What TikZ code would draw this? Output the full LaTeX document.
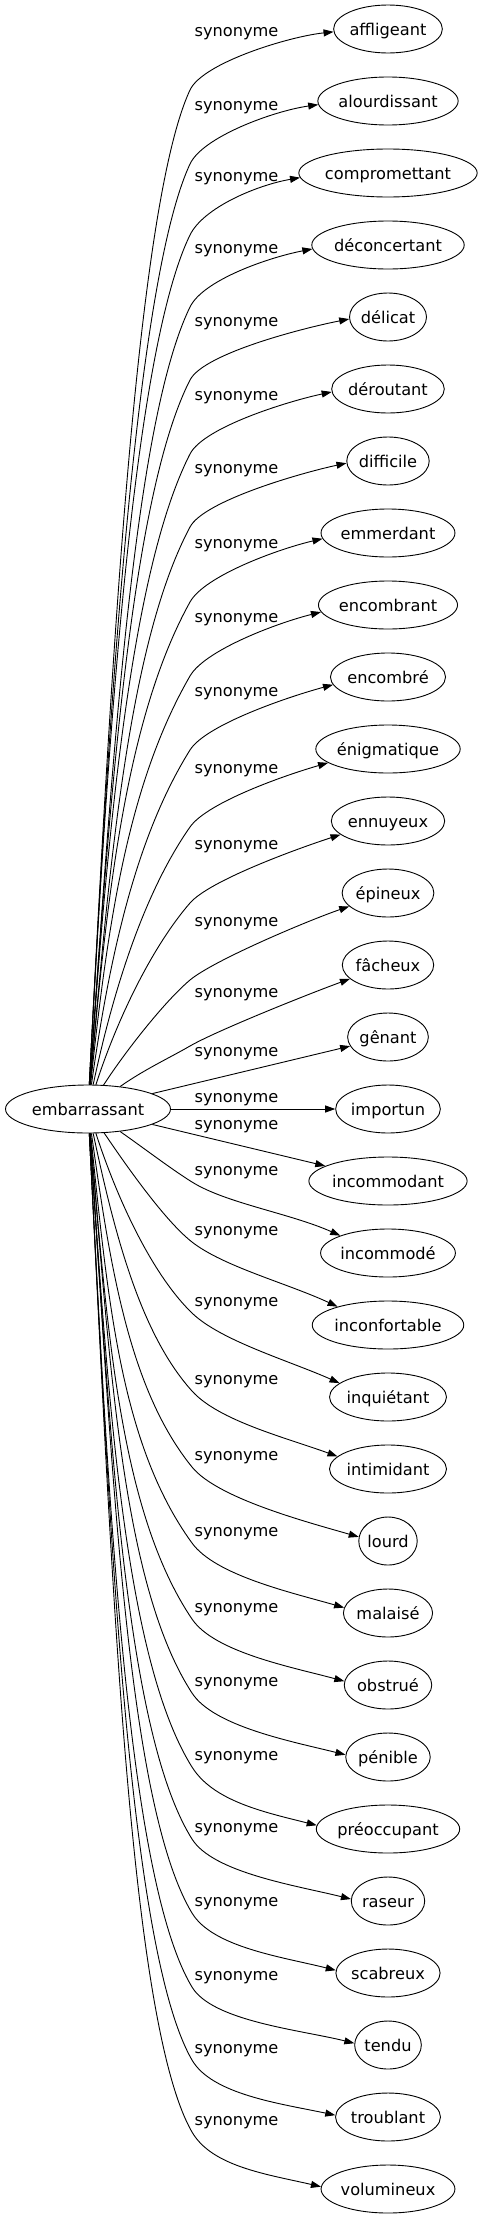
\documentclass[tikz,border=0pt]{standalone}
\usepackage{fontspec}
\newfontfamily\dejavu{DejaVu Sans}
\usetikzlibrary{arrows.meta,shapes.geometric}
\newlength\synw
\newcommand\gfont{\dejavu\fontsize{16.2pt}{19pt}\selectfont}
\tikzset{
  gnode/.style={ellipse, draw, line width=0.9pt, inner sep=0pt, minimum height=48pt, font=\gfont, text height=14pt, text depth=2pt},
  synlab/.style={font=\gfont, inner sep=0pt, anchor=base},
  synedge/.style={line width=0.9pt, -{Triangle[length=10pt,width=7pt]}}
}
\newcommand\tnode[3]{\settowidth\synw{\gfont #3}%
  \node[gnode, minimum width={1.25*\synw+32pt}] (#1) at (388,{-(29+72*#2)}) {#3};}
\newcommand\slab[2]{\node[synlab] (#1) at (236.5,{-(#2+3.5)}) {synonyme};}
% upper edge: target, U.y, out angle, tangent at U, out dist, in dist, arrival angle, target anchor
\newcommand\uedge[8]{%
  \pgfmathsetmacro\inA{#4+180}\pgfmathsetmacro\inB{#7+180}%
  \draw[synedge] (src) to[out=#3,in=\inA,out distance=#5pt,in distance=#6pt] (190,-#2)
    to[out=#4,in=\inB,out distance=30pt,in distance=45pt] (#1.#8);}
\newcommand\ledge[8]{%
  \pgfmathsetmacro\inA{#4+180}\pgfmathsetmacro\inB{#7+180}%
  \draw[synedge] (src) to[out=#3,in=\inA,out distance=#5pt,in distance=#6pt] (192,-#2)
    to[out=#4,in=\inB,out distance=40pt,in distance=55pt] (#1.#8);}
\begin{document}
\begin{tikzpicture}[x=1pt,y=1pt]
\useasboundingbox (0,0) rectangle (486,-2219);
\node[gnode, minimum width=165pt] (src) at (88,-1109) {embarrassant};
\tnode{n0}{0}{affligeant}
\tnode{n1}{1}{alourdissant}
\tnode{n2}{2}{compromettant}
\tnode{n3}{3}{déconcertant}
\tnode{n4}{4}{délicat}
\tnode{n5}{5}{déroutant}
\tnode{n6}{6}{difficile}
\tnode{n7}{7}{emmerdant}
\tnode{n8}{8}{encombrant}
\tnode{n9}{9}{encombré}
\tnode{n10}{10}{énigmatique}
\tnode{n11}{11}{ennuyeux}
\tnode{n12}{12}{épineux}
\tnode{n13}{13}{fâcheux}
\tnode{n14}{14}{gênant}
\tnode{n15}{15}{importun}
\tnode{n16}{16}{incommodant}
\tnode{n17}{17}{incommodé}
\tnode{n18}{18}{inconfortable}
\tnode{n19}{19}{inquiétant}
\tnode{n20}{20}{intimidant}
\tnode{n21}{21}{lourd}
\tnode{n22}{22}{malaisé}
\tnode{n23}{23}{obstrué}
\tnode{n24}{24}{pénible}
\tnode{n25}{25}{préoccupant}
\tnode{n26}{26}{raseur}
\tnode{n27}{27}{scabreux}
\tnode{n28}{28}{tendu}
\tnode{n29}{29}{troublant}
\tnode{n30}{30}{volumineux}
\slab{l0}{33}\slab{l1}{107}\slab{l2}{178}\slab{l3}{250}\slab{l4}{323}
\slab{l5}{397}\slab{l6}{470}\slab{l7}{545}\slab{l8}{619}\slab{l9}{693}
\slab{l10}{770}\slab{l11}{846}\slab{l12}{923}\slab{l13}{994}\slab{l14}{1053}
\slab{l15}{1099}\slab{l16}{1126}\slab{l17}{1172}\slab{l18}{1232}\slab{l19}{1303}
\slab{l20}{1381}\slab{l21}{1457}\slab{l22}{1533}\slab{l23}{1609}\slab{l24}{1683}
\slab{l25}{1757}\slab{l26}{1829}\slab{l27}{1903}\slab{l28}{1977}\slab{l29}{2050}
\slab{l30}{2122}
\uedge{n0}{90}{87}{65}{398}{130}{6}{183}
\uedge{n1}{164}{87}{65}{368}{130}{8}{183}
\uedge{n2}{235}{87}{64}{340}{130}{10}{183}
\uedge{n3}{307}{86}{64}{311}{130}{11}{183}
\uedge{n4}{380}{86}{63}{282}{130}{11}{183}
\uedge{n5}{454}{86}{63}{252}{130}{12}{183}
\uedge{n6}{527}{85}{62}{223}{130}{12}{183}
\uedge{n7}{602}{85}{61}{193}{130}{13}{185}
\uedge{n8}{676}{84}{60}{164}{123}{14}{186}
\uedge{n9}{750}{82}{58}{134}{100}{15}{188}
\uedge{n10}{827}{78}{55}{103}{77}{16}{193}
\uedge{n11}{903}{72}{49}{73}{55}{18}{196}
\uedge{n12}{980}{57}{40}{42}{32}{19}{199}
\uedge{n13}{1046}{35}{30}{30}{25}{20}{200}
\draw[synedge] (src) -- (n14);
\draw[synedge] (src) -- (n15);
\draw[synedge] (src) -- (n16);
\ledge{n17}{1182}{-35}{-32}{30}{25}{-24}{160}
\ledge{n18}{1242}{-56}{-38}{44}{33}{-25}{160}
\ledge{n19}{1313}{-72}{-44}{72}{54}{-24}{164}
\ledge{n20}{1391}{-78}{-48}{103}{77}{-20}{166}
\ledge{n21}{1467}{-82}{-51}{134}{100}{-16}{172}
\ledge{n22}{1543}{-84}{-54}{164}{123}{-16}{173}
\ledge{n23}{1619}{-85}{-56}{194}{130}{-15}{175}
\ledge{n24}{1693}{-85}{-57}{224}{130}{-14}{177}
\ledge{n25}{1767}{-86}{-58}{254}{130}{-14}{177}
\ledge{n26}{1839}{-86}{-58}{282}{130}{-14}{177}
\ledge{n27}{1913}{-86}{-59}{312}{130}{-14}{177}
\ledge{n28}{1987}{-87}{-59}{342}{130}{-14}{177}
\ledge{n29}{2060}{-87}{-60}{371}{130}{-12}{178}
\ledge{n30}{2132}{-87}{-60}{400}{130}{-13}{178}
\end{tikzpicture}
\end{document}
